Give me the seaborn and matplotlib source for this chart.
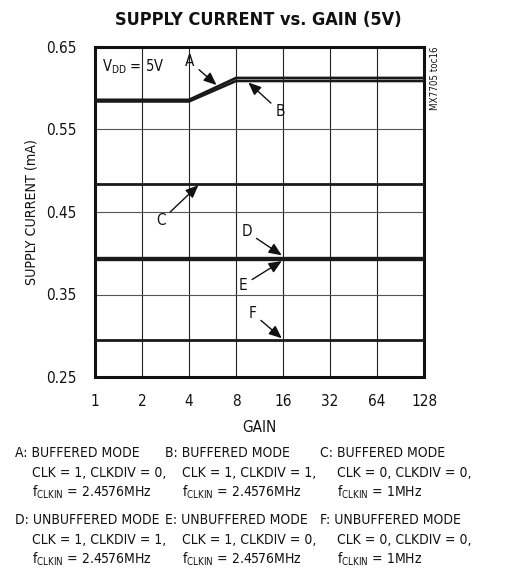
import matplotlib
matplotlib.use("Agg")
import matplotlib.pyplot as plt
import matplotlib.ticker as mtick
import pandas as pd
import seaborn as sns

# values
gain = [1, 2, 4, 8, 16, 32, 64, 128]
curve_a = [0.586, 0.586, 0.586, 0.6125, 0.6125, 0.6125, 0.6125, 0.6125]
curve_b = [0.584, 0.584, 0.584, 0.6088, 0.6088, 0.6088, 0.6088, 0.6088]
curve_c = [0.4845] * 8
curve_d = [0.3948] * 8
curve_e = [0.3922] * 8
curve_f = [0.2945] * 8
curve_names = ["A", "B", "C", "D", "E", "F"]

y_ticks = [0.25, 0.35, 0.45, 0.55, 0.65]

legend_blocks = [
    ["A: BUFFERED MODE", "CLK = 1, CLKDIV = 0,", r"f$_{\rm CLKIN}$ = 2.4576MHz"],
    ["B: BUFFERED MODE", "CLK = 1, CLKDIV = 1,", r"f$_{\rm CLKIN}$ = 2.4576MHz"],
    ["C: BUFFERED MODE", "CLK = 0, CLKDIV = 0,", r"f$_{\rm CLKIN}$ = 1MHz"],
    ["D: UNBUFFERED MODE", "CLK = 1, CLKDIV = 1,", r"f$_{\rm CLKIN}$ = 2.4576MHz"],
    ["E: UNBUFFERED MODE", "CLK = 1, CLKDIV = 0,", r"f$_{\rm CLKIN}$ = 2.4576MHz"],
    ["F: UNBUFFERED MODE", "CLK = 0, CLKDIV = 0,", r"f$_{\rm CLKIN}$ = 1MHz"],
]

sns.set_theme(style="white")
plt.rcParams["font.family"] = ["DejaVu Sans"]
plt.rcParams["font.stretch"] = "condensed"
plt.rcParams["mathtext.fontset"] = "custom"
plt.rcParams["mathtext.rm"] = "DejaVu Sans:stretch=condensed"

df = pd.DataFrame(
    {
        "gain": gain * 6,
        "current": curve_a + curve_b + curve_c + curve_d + curve_e + curve_f,
        "curve": [n for n in curve_names for _ in gain],
    }
)

fig = plt.figure(figsize=(5.05, 5.78), dpi=100)
ax = fig.add_axes([95 / 505, 1 - 377 / 578, 329 / 505, 330 / 578])

sns.lineplot(
    data=df,
    x="gain",
    y="current",
    hue="curve",
    palette=["#1a1a1a"] * 6,
    legend=False,
    ax=ax,
    zorder=3,
)
for ln, lw in zip(ax.lines, [1.9, 1.9, 2.0, 1.7, 1.7, 2.0]):
    ln.set_linewidth(lw)

ax.set_xscale("log", base=2)
ax.set_xlim(1, 128)
ax.set_ylim(0.25, 0.65)
ax.xaxis.set_major_locator(mtick.FixedLocator(gain))
ax.xaxis.set_major_formatter(mtick.FixedFormatter([str(g) for g in gain]))
ax.xaxis.set_minor_locator(mtick.NullLocator())
ax.yaxis.set_major_locator(mtick.FixedLocator(y_ticks))
ax.yaxis.set_major_formatter(mtick.FormatStrFormatter("%.2f"))

ax.grid(True, axis="x", color="#222222", linewidth=0.8)
ax.grid(True, axis="y", color="#555555", linewidth=0.8)
ax.tick_params(axis="both", length=0, labelsize=11, colors="#111111")
ax.tick_params(axis="x", pad=12)
ax.tick_params(axis="y", pad=13)
for sp in ax.spines.values():
    sp.set_color("#111111")
    sp.set_linewidth(2.2)

ax.set_xlabel("GAIN", fontsize=11, labelpad=8, color="#111111")
ax.set_ylabel("SUPPLY CURRENT (mA)", fontsize=10.2, labelpad=6, color="#111111")

fig.text(258 / 505, 1 - 20 / 578, "SUPPLY CURRENT vs. GAIN (5V)", ha="center",
         va="center", fontsize=13, fontweight="bold", color="#111111")
fig.text(435 / 505, 1 - 78 / 578, "MX7705 toc16", rotation=90, ha="center",
         va="center", fontsize=7, color="#111111")

ax.text(1.11, 0.626, r"V$_{\rm DD}$ = 5V", fontsize=10.5, va="center", ha="left",
        color="#111111")

arrow = dict(arrowstyle="-|>,head_length=0.7,head_width=0.3", color="#111111",
             lw=1.0, shrinkA=1, shrinkB=0)
annots = [
    ("A", (6.0, 0.604), (4.06, 0.632)),
    ("B", (9.6, 0.607), (15.3, 0.572)),
    ("C", (4.59, 0.4825), (2.65, 0.4395)),
    ("D", (15.7, 0.3975), (9.37, 0.426)),
    ("E", (15.7, 0.3905), (8.91, 0.3615)),
    ("F", (15.7, 0.297), (10.23, 0.3272)),
]
for label, tip, txt in annots:
    ax.annotate(label, xy=tip, xytext=txt, fontsize=11, ha="center", va="center",
                color="#111111", arrowprops=arrow)

col_x = [15, 165, 320]
row_y = [[453, 473, 492], [520, 540, 559]]
for i, block in enumerate(legend_blocks):
    cx = col_x[i % 3]
    for j, line in enumerate(block):
        x = cx if j == 0 else cx + 17
        fig.text(x / 505, 1 - row_y[i // 3][j] / 578, line, ha="left", va="center",
                 fontsize=10, color="#111111")

fig.savefig("out.png", dpi=100)
